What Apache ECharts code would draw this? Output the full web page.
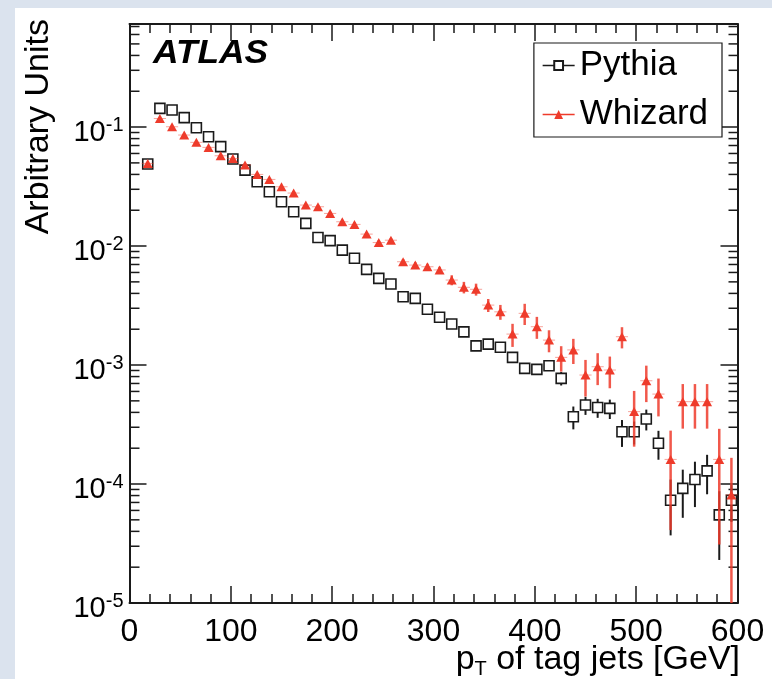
<!DOCTYPE html>
<html><head><meta charset="utf-8">
<script src="https://cdn.jsdelivr.net/npm/echarts@6/dist/echarts.min.js"></script>
<style>
html,body{margin:0;padding:0;background:#dbe3ee;width:772px;height:679px;overflow:hidden;}
#panel{position:absolute;left:15px;top:8px;right:0;bottom:0;background:#fff;}
#chart{position:absolute;left:0;top:0;width:772px;height:679px;}
</style></head><body>
<div id="panel"></div><div id="chart"></div>
<script>
// bin centres (GeV)
const ptBins = [18,30,42,54,66,78,90,102,114,126,138,150,162,174,186,198,210,222,234,246,
  258,270,282,294,306,318,330,342,354,366,378,390,402,414,426,438,450,462,474,486,
  498,510,522,534,546,558,570,582,594];
const pythiaValues = [0.049,0.1435,0.139,0.12,0.0987,0.083,0.0685,0.0539,0.0435,0.0347,
  0.0286,0.0236,0.0194,0.0155,0.0118,0.0111,0.00925,0.00789,0.00637,0.00535,
  0.0048,0.00375,0.00363,0.00294,0.00252,0.00221,0.0019,0.00145,0.0015,0.00141,
  0.00116,0.000938,0.00092,0.000985,0.000773,0.000368,0.000461,0.00044,0.000432,0.000275,
  0.000275,0.000352,0.00022,0.000073,0.000092,0.000109,0.000129,0.000055,0.000073];
const pythiaErrors = [0.001,0.002,0.002,0.002,0.0015,0.0013,0.0011,0.0009,0.0008,0.0007,
  0.0006,0.0005,0.0004,0.00035,0.0003,0.0003,0.00025,0.00022,0.0002,0.00017,
  0.00016,0.00013,0.00013,0.00011,0.0001,0.0001,0.00009,0.00008,0.00008,0.00008,
  0.00007,0.00007,0.00007,0.00007,0.0001,0.00008,0.00008,0.00008,0.00008,0.00007,
  0.00006,0.00007,0.00006,0.000036,0.00004,0.000045,0.000047,0.000032,0.000025];
const whizardValues = [0.0495,0.118,0.1006,0.0857,0.0744,0.0675,0.0574,0.0545,0.048,0.04,
  0.0363,0.0315,0.0279,0.0221,0.0214,0.0188,0.016,0.0152,0.0126,0.0107,
  0.0112,0.00738,0.00692,0.0067,0.0063,0.00518,0.0045,0.00433,0.00319,0.0028,
  0.00182,0.00272,0.0021,0.00162,0.00116,0.00134,0.000824,0.000968,0.000908,0.00173,
  0.000406,0.000738,0.00057,0.000161,0.000492,0.000492,0.000492,0.000161,0.000081];
const whizardErrors = [0.001,0.002,0.002,0.0018,0.0016,0.0015,0.0013,0.0012,0.0011,0.001,
  0.0009,0.0008,0.0008,0.0007,0.0007,0.0006,0.0006,0.0006,0.0005,0.0005,
  0.0005,0.0004,0.0004,0.0004,0.0004,0.0005,0.0005,0.0005,0.0004,0.0004,
  0.0004,0.00055,0.00044,0.00034,0.00028,0.00032,0.00028,0.00029,0.00027,0.00035,
  0.0002,0.00025,0.0002,0.00012,0.0002,0.0002,0.0002,0.00013,0.000085];
const binHalfWidth = 6;
const xMin = 0, xMax = 600, xInterval = 100;
const yMin = 1e-5, yMax = 0.735;
const logMinorTicks = [2e-5,3e-5,4e-5,5e-5,6e-5,7e-5,8e-5,9e-5,
  2e-4,3e-4,4e-4,5e-4,6e-4,7e-4,8e-4,9e-4,
  2e-3,3e-3,4e-3,5e-3,6e-3,7e-3,8e-3,9e-3,
  2e-2,3e-2,4e-2,5e-2,6e-2,7e-2,8e-2,9e-2,
  2e-1,3e-1,4e-1,5e-1,6e-1,7e-1];

const FONT = '"Liberation Sans", Arial, Helvetica, sans-serif';
const RED = '#ee3b2b';
const BLACK = '#1a1a1a';

function pairs(vals, errs) { return ptBins.map((x, i) => [x, vals[i], errs[i]]); }

function errRenderer(color, width, hbar) {
  return function (params, api) {
    const x = api.value(0), v = api.value(1), e = api.value(2);
    const lo = Math.max(v - e, yMin), hi = v + e;
    const p1 = api.coord([x, hi]), p2 = api.coord([x, lo]);
    const children = [{type: 'line', shape: {x1: p1[0], y1: p1[1], x2: p2[0], y2: p2[1]},
      style: {stroke: color, lineWidth: width}}];
    if (hbar) {
      const a = api.coord([x - binHalfWidth, v]), b = api.coord([x + binHalfWidth, v]);
      children.push({type: 'line', shape: {x1: a[0], y1: a[1], x2: b[0], y2: b[1]},
        style: {stroke: color, lineWidth: 1, opacity: 0.55}});
    }
    return {type: 'group', children};
  };
}

const chart = echarts.init(document.getElementById('chart'), null, {renderer: 'canvas'});
const axisLine = {show: true, onZero: false, lineStyle: {color: BLACK, width: 2}};
const xAxisBase = {
  type: 'value', min: xMin, max: xMax, interval: xInterval,
  axisLine, splitLine: {show: false},
  axisTick: {show: true, inside: true, length: 17, lineStyle: {color: BLACK, width: 1.5}},
  minorTick: {show: true, splitNumber: 5, length: 9, lineStyle: {color: BLACK, width: 1.5}}
};
const yAxisBase = {
  type: 'log', logBase: 10, min: yMin, max: yMax,
  axisLine, splitLine: {show: false},
  axisTick: {show: true, inside: true, length: 17, lineStyle: {color: BLACK, width: 1.5}}
};

chart.setOption({
  animation: false,
  backgroundColor: 'transparent',
  grid: {left: 129.5, right: 34.5, top: 24, bottom: 76, containLabel: false},
  xAxis: [
    Object.assign({}, xAxisBase, {position: 'bottom',
      axisLabel: {show: true, fontSize: 32, color: '#000', fontFamily: FONT, margin: 13}}),
    Object.assign({}, xAxisBase, {position: 'top', axisLabel: {show: false}})
  ],
  yAxis: [
    Object.assign({}, yAxisBase, {position: 'left',
      axisLabel: {show: true, margin: 6, color: '#000', fontFamily: FONT, fontSize: 29,
        showMaxLabel: false, padding: [12, 0, 0, 0],
        formatter: function (v) {
          const l = Math.log10(v), e = Math.round(l);
          if (Math.abs(l - e) > 1e-6) return '';
          return '10{sup|' + e + '}';
        },
        rich: {sup: {fontSize: 20, fontFamily: FONT, color: '#000', padding: [0, 0, 16, 0]}}}}),
    Object.assign({}, yAxisBase, {position: 'right', axisLabel: {show: false}})
  ],
  legend: {
    orient: 'vertical', right: 50, top: 43,
    backgroundColor: '#fff', borderColor: BLACK, borderWidth: 1.2, borderRadius: 0,
    padding: [5, 14, 5, 8], itemGap: 14, itemWidth: 32, itemHeight: 11,
    textStyle: {fontSize: 35, color: '#000', fontFamily: FONT},
    data: [
      {name: 'Pythia', lineStyle: {width: 1.5, color: BLACK, opacity: 1}},
      {name: 'Whizard', lineStyle: {width: 1.5, color: RED, opacity: 1}}
    ]
  },
  graphic: [
    {type: 'text', x: 153, y: 54, z: 100, scaleX: 1.07,
      style: {text: 'ATLAS', font: 'italic bold 33px ' + FONT, fill: '#000', verticalAlign: 'middle'}},
    {type: 'text', x: 39, y: 19, rotation: Math.PI / 2, z: 100,
      style: {text: 'Arbitrary Units', font: '34px ' + FONT, fill: '#000', align: 'right', verticalAlign: 'middle'}},
    {type: 'text', x: 740, y: 660, z: 100,
      style: {text: 'p{sub|T} of tag jets [GeV]', font: '34px ' + FONT, fill: '#000',
        align: 'right', verticalAlign: 'middle',
        rich: {sub: {fontSize: 20, fontFamily: FONT, fill: '#000', padding: [18, 0, 0, 0]}}}}
  ],
  series: [
    {type: 'custom', name: 'minorLogTicks', silent: true, z: 1,
      data: logMinorTicks.map(v => [xMin, v]),
      encode: {x: 0, y: 1},
      renderItem: function (params, api) {
        const v = api.value(1);
        const l = api.coord([xMin, v]), r = api.coord([xMax, v]);
        return {type: 'group', children: [
          {type: 'line', shape: {x1: l[0], y1: l[1], x2: l[0] + 10, y2: l[1]}, style: {stroke: BLACK, lineWidth: 1.5}},
          {type: 'line', shape: {x1: r[0], y1: r[1], x2: r[0] - 9, y2: r[1]}, style: {stroke: BLACK, lineWidth: 1.5}}
        ]};
      }},
    {type: 'custom', name: 'PythiaErr', silent: true, z: 3,
      data: pairs(pythiaValues, pythiaErrors), encode: {x: 0, y: 1},
      renderItem: errRenderer(BLACK, 2, false)},
    {type: 'line', name: 'Pythia', z: 4,
      data: ptBins.map((x, i) => [x, pythiaValues[i]]),
      symbol: 'rect', symbolSize: 10,
      itemStyle: {color: '#fff', borderColor: BLACK, borderWidth: 1.6},
      lineStyle: {width: 0, opacity: 0}},
    {type: 'custom', name: 'WhizardErr', silent: true, z: 5,
      data: pairs(whizardValues, whizardErrors), encode: {x: 0, y: 1},
      renderItem: errRenderer('rgba(238,59,43,0.85)', 2.5, true)},
    {type: 'line', name: 'Whizard', z: 6,
      data: ptBins.map((x, i) => [x, whizardValues[i]]),
      symbol: 'triangle', symbolSize: [10, 9],
      itemStyle: {color: RED, borderWidth: 0},
      lineStyle: {width: 0, opacity: 0}}
  ]
});
</script>
</body></html>
